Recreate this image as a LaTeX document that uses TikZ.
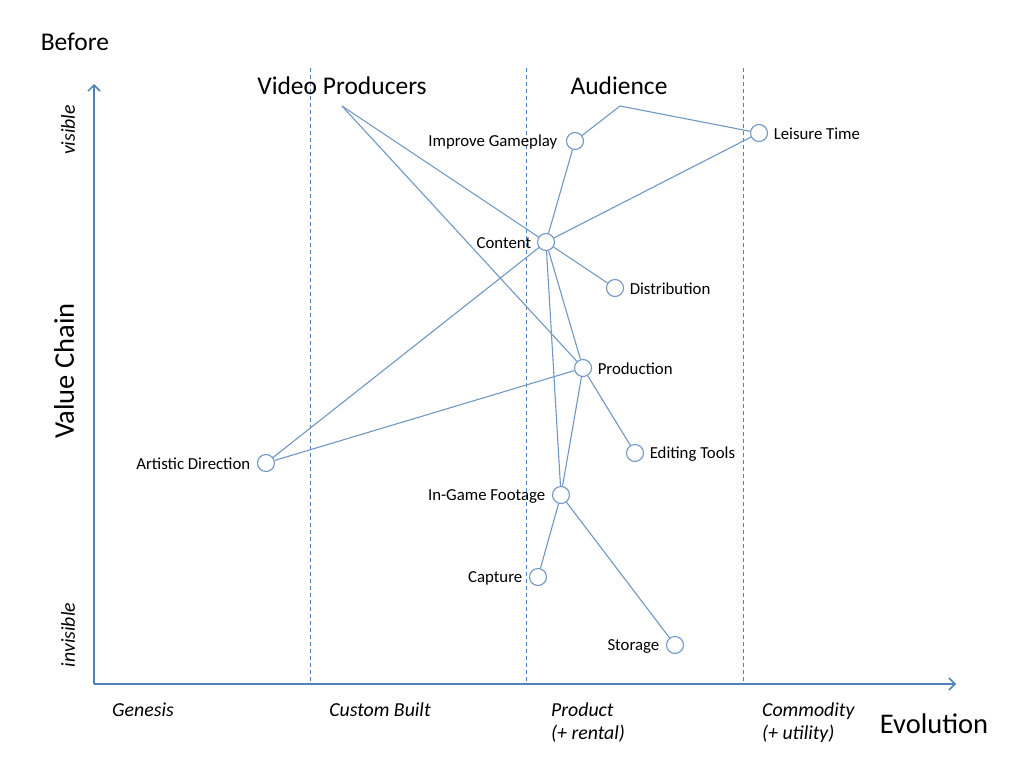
\documentclass[tikz,border=0pt]{standalone}
\usepackage{fontspec}
\setmainfont{Carlito}
\usetikzlibrary{arrows.meta}
\definecolor{axisblue}{HTML}{4F81BD}
\definecolor{edgeblue}{HTML}{7097C4}
\begin{document}
\begin{tikzpicture}[x=1pt,y=-1pt,
  comp/.style={circle,draw=edgeblue,fill=white,line width=1.1pt,minimum size=17pt,inner sep=0pt},
  lbl/.style={font=\fontsize{16.8}{18}\selectfont,inner sep=0pt},
  big/.style={font=\fontsize{25.5}{28}\selectfont,inner sep=0pt},
  bigger/.style={font=\fontsize{28.5}{30}\selectfont,inner sep=0pt},
  stage/.style={font=\fontsize{19.8}{23}\selectfont\itshape,inner sep=0pt,align=left},
  edge/.style={draw=edgeblue,line width=1.1pt},
  axis/.style={draw=axisblue,line width=1.8pt,-{Straight Barb[length=6pt,width=12pt,line width=1.5pt]}},
  divider/.style={draw=axisblue,dashed,line width=0.8pt,dash pattern=on 4pt off 3pt}]
\useasboundingbox (0,0) rectangle (1024,768);
% dividers
\draw[divider] (310,68) -- (310,684);
\draw[divider] (526,68) -- (526,684);
\draw[divider] (743,68) -- (743,684);
% axes
\coordinate (origin) at (94,684);
\coordinate (ytop) at (94,84);
\coordinate (xend) at (956,684);
\draw[axis] (origin) -- (ytop);
\draw[axis] (origin) -- (xend);
% texts
\node[big] (before) at (75,42) {Before};
\node[bigger,rotate=90] (vc) at (64,371) {Value Chain};
\node[stage,rotate=90] (vis) at (68,130) {visible};
\node[stage,rotate=90] (invis) at (68,635) {invisible};
\node[stage] (gen) at (143,710) {Genesis};
\node[stage] (cb) at (380,710) {Custom Built};
\node[stage,anchor=north west] (prod) at (551,703) {Product\\(+ rental)};
\node[stage,anchor=north west] (comm) at (762,703) {Commodity\\(+ utility)};
\node[bigger] (evo) at (934,724) {Evolution};
\node[big] (vp) at (342,86) {Video Producers};
\node[big] (aud) at (619,86) {Audience};
\coordinate (vpa) at (342,106);
\coordinate (auda) at (620,106);
% components
\node[comp] (leisure) at (759,133) {};
\node[comp] (improve) at (575,141) {};
\node[comp] (content) at (546,242) {};
\node[comp] (distr) at (615,288) {};
\node[comp] (production) at (583,368) {};
\node[comp] (editing) at (635,453) {};
\node[comp] (footage) at (561,495) {};
\node[comp] (capture) at (538,577) {};
\node[comp] (storage) at (675,645) {};
\node[comp] (artistic) at (266,463) {};
% edges
\path[edge] (auda) -- (improve);
\path[edge] (auda) -- (leisure);
\path[edge] (vpa) -- (content);
\path[edge] (vpa) -- (production);
\path[edge] (improve) -- (content);
\path[edge] (leisure) -- (content);
\path[edge] (content) -- (artistic);
\path[edge] (content) -- (distr);
\path[edge] (content) -- (production);
\path[edge] (content) -- (footage);
\path[edge] (production) -- (artistic);
\path[edge] (production) -- (editing);
\path[edge] (production) -- (footage);
\path[edge] (footage) -- (capture);
\path[edge] (footage) -- (storage);
% labels
\node[lbl,anchor=west] at ([xshift=5.5pt,yshift=-1pt]leisure.east) {Leisure Time};
\node[lbl,anchor=east] at ([xshift=-8.5pt,yshift=-1pt]improve.west) {Improve Gameplay};
\node[lbl,anchor=east] at ([xshift=-5.5pt,yshift=-1pt]content.west) {Content};
\node[lbl,anchor=west] at ([xshift=5.5pt,yshift=-1pt]distr.east) {Distribution};
\node[lbl,anchor=west] at ([xshift=5.5pt,yshift=-1pt]production.east) {Production};
\node[lbl,anchor=west] at ([xshift=5.5pt,yshift=-1pt]editing.east) {Editing Tools};
\node[lbl,anchor=east] at ([xshift=-6.5pt,yshift=-1pt]footage.west) {In-Game Footage};
\node[lbl,anchor=east] at ([xshift=-6.5pt,yshift=-1pt]capture.west) {Capture};
\node[lbl,anchor=east] at ([xshift=-6.5pt,yshift=-1pt]storage.west) {Storage};
\node[lbl,anchor=east] at ([xshift=-6.5pt,yshift=-1pt]artistic.west) {Artistic Direction};
\end{tikzpicture}
\end{document}
